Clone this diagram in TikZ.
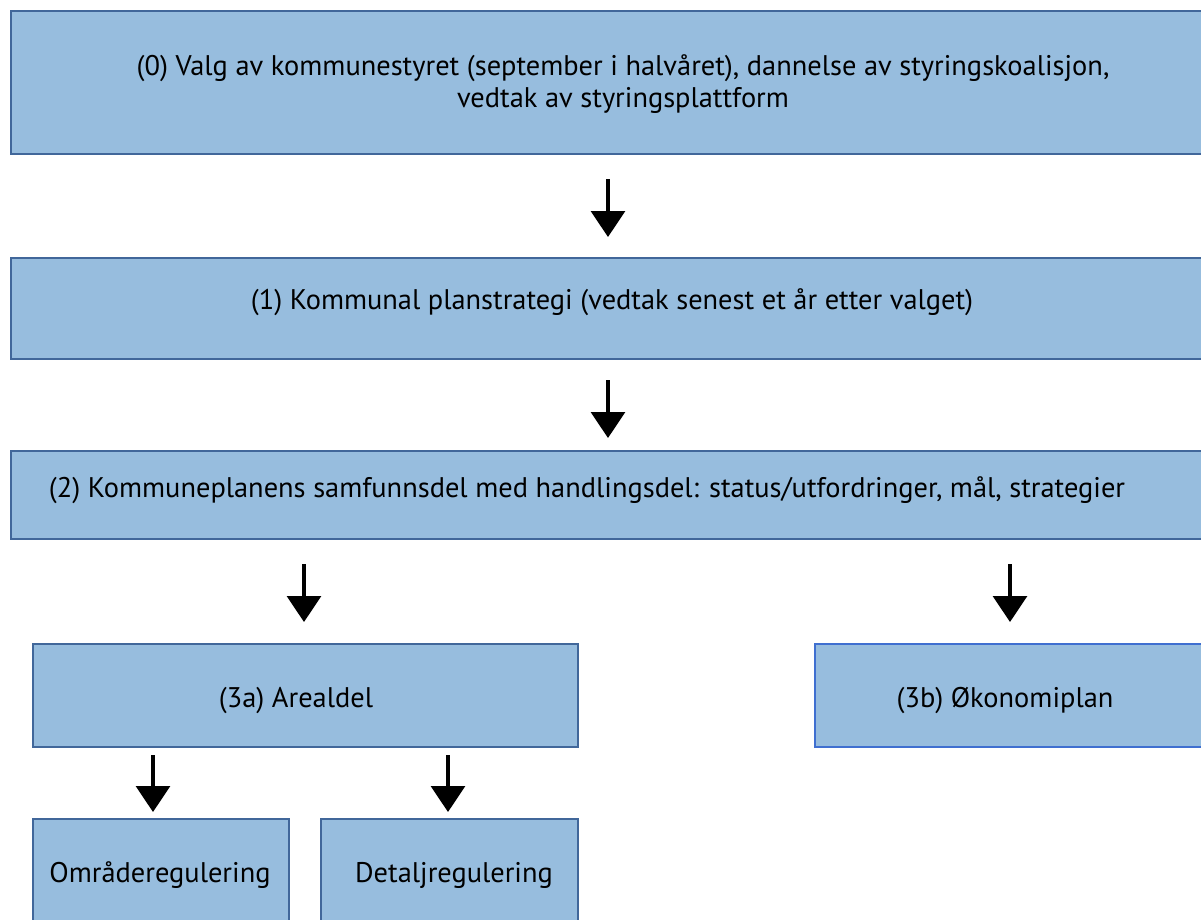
\documentclass[tikz,border=0pt]{standalone}
\usepackage{fontspec}
\setmainfont{PT Sans}
\usetikzlibrary{arrows.meta}
\definecolor{boxfill}{HTML}{97BDDE}
\definecolor{boxline}{HTML}{41679A}
\definecolor{boxlineb}{HTML}{3F6FD0}
\tikzset{
  box/.style={draw=boxline, fill=boxfill, line width=2pt, anchor=north west, inner sep=0pt},
  lbl/.style={font=\fontsize{28.4}{32}\selectfont, text=black, align=center, inner sep=0pt},
  arr/.style={draw=black, line width=3.2pt, -{Triangle[width=34pt,length=26pt]}}
}
\begin{document}
\begin{tikzpicture}[x=1pt,y=-1pt]
\useasboundingbox (0,0) rectangle (1201,919);
\clip (0,0) rectangle (1201,919);
\fill[white] (0,0) rectangle (1201,919);
% boxes
\node[box, minimum width=1220pt, minimum height=143pt] (b0) at (10,10) {};
\node[box, minimum width=1220pt, minimum height=101pt] (b1) at (10,257) {};
\node[box, minimum width=1220pt, minimum height=88pt] (b2) at (10,450) {};
\node[box, minimum width=545pt, minimum height=103pt] (b3a) at (32,643) {};
\node[box, draw=boxlineb, minimum width=420pt, minimum height=103pt] (b3b) at (814,643) {};
\node[box, minimum width=256pt, minimum height=140pt] (b4a) at (32,818) {};
\node[box, minimum width=257pt, minimum height=140pt] (b4b) at (320,818) {};
% labels
\node[lbl] (t0) at (623,84) {(0) Valg av kommunestyret (september i halvåret), dannelse av styringskoalisjon,\\ vedtak av styringsplattform};
\node[lbl] (t1) at (612,302) {(1) Kommunal planstrategi (vedtak senest et år etter valget)};
\node[lbl] (t2) at (587,490) {(2) Kommuneplanens samfunnsdel med handlingsdel: status/utfordringer, mål, strategier};
\node[lbl] (t3a) at (296,700) {(3a) Arealdel};
\node[lbl] (t3b) at (1005,700) {(3b) Økonomiplan};
\node[lbl] (t4a) at (160,875) {Områderegulering};
\node[lbl] (t4b) at (454,875) {Detaljregulering};
% arrows
\draw[arr, shorten <=24pt, shorten >=20pt] (b0.south -| 608,0) -- (b1.north -| 608,0);
\draw[arr, shorten <=20pt, shorten >=12pt] (b1.south -| 608,0) -- (b2.north -| 608,0);
\draw[arr, shorten <=24pt, shorten >=21pt] (b2.south -| 304,0) -- (b3a.north -| 304,0);
\draw[arr, shorten <=24pt, shorten >=21pt] (b2.south -| 1010,0) -- (b3b.north -| 1010,0);
\draw[arr, shorten <=7pt, shorten >=6pt] (b3a.south -| 153,0) -- (b4a.north -| 153,0);
\draw[arr, shorten <=7pt, shorten >=6pt] (b3a.south -| 448,0) -- (b4b.north -| 448,0);
\end{tikzpicture}
\end{document}
